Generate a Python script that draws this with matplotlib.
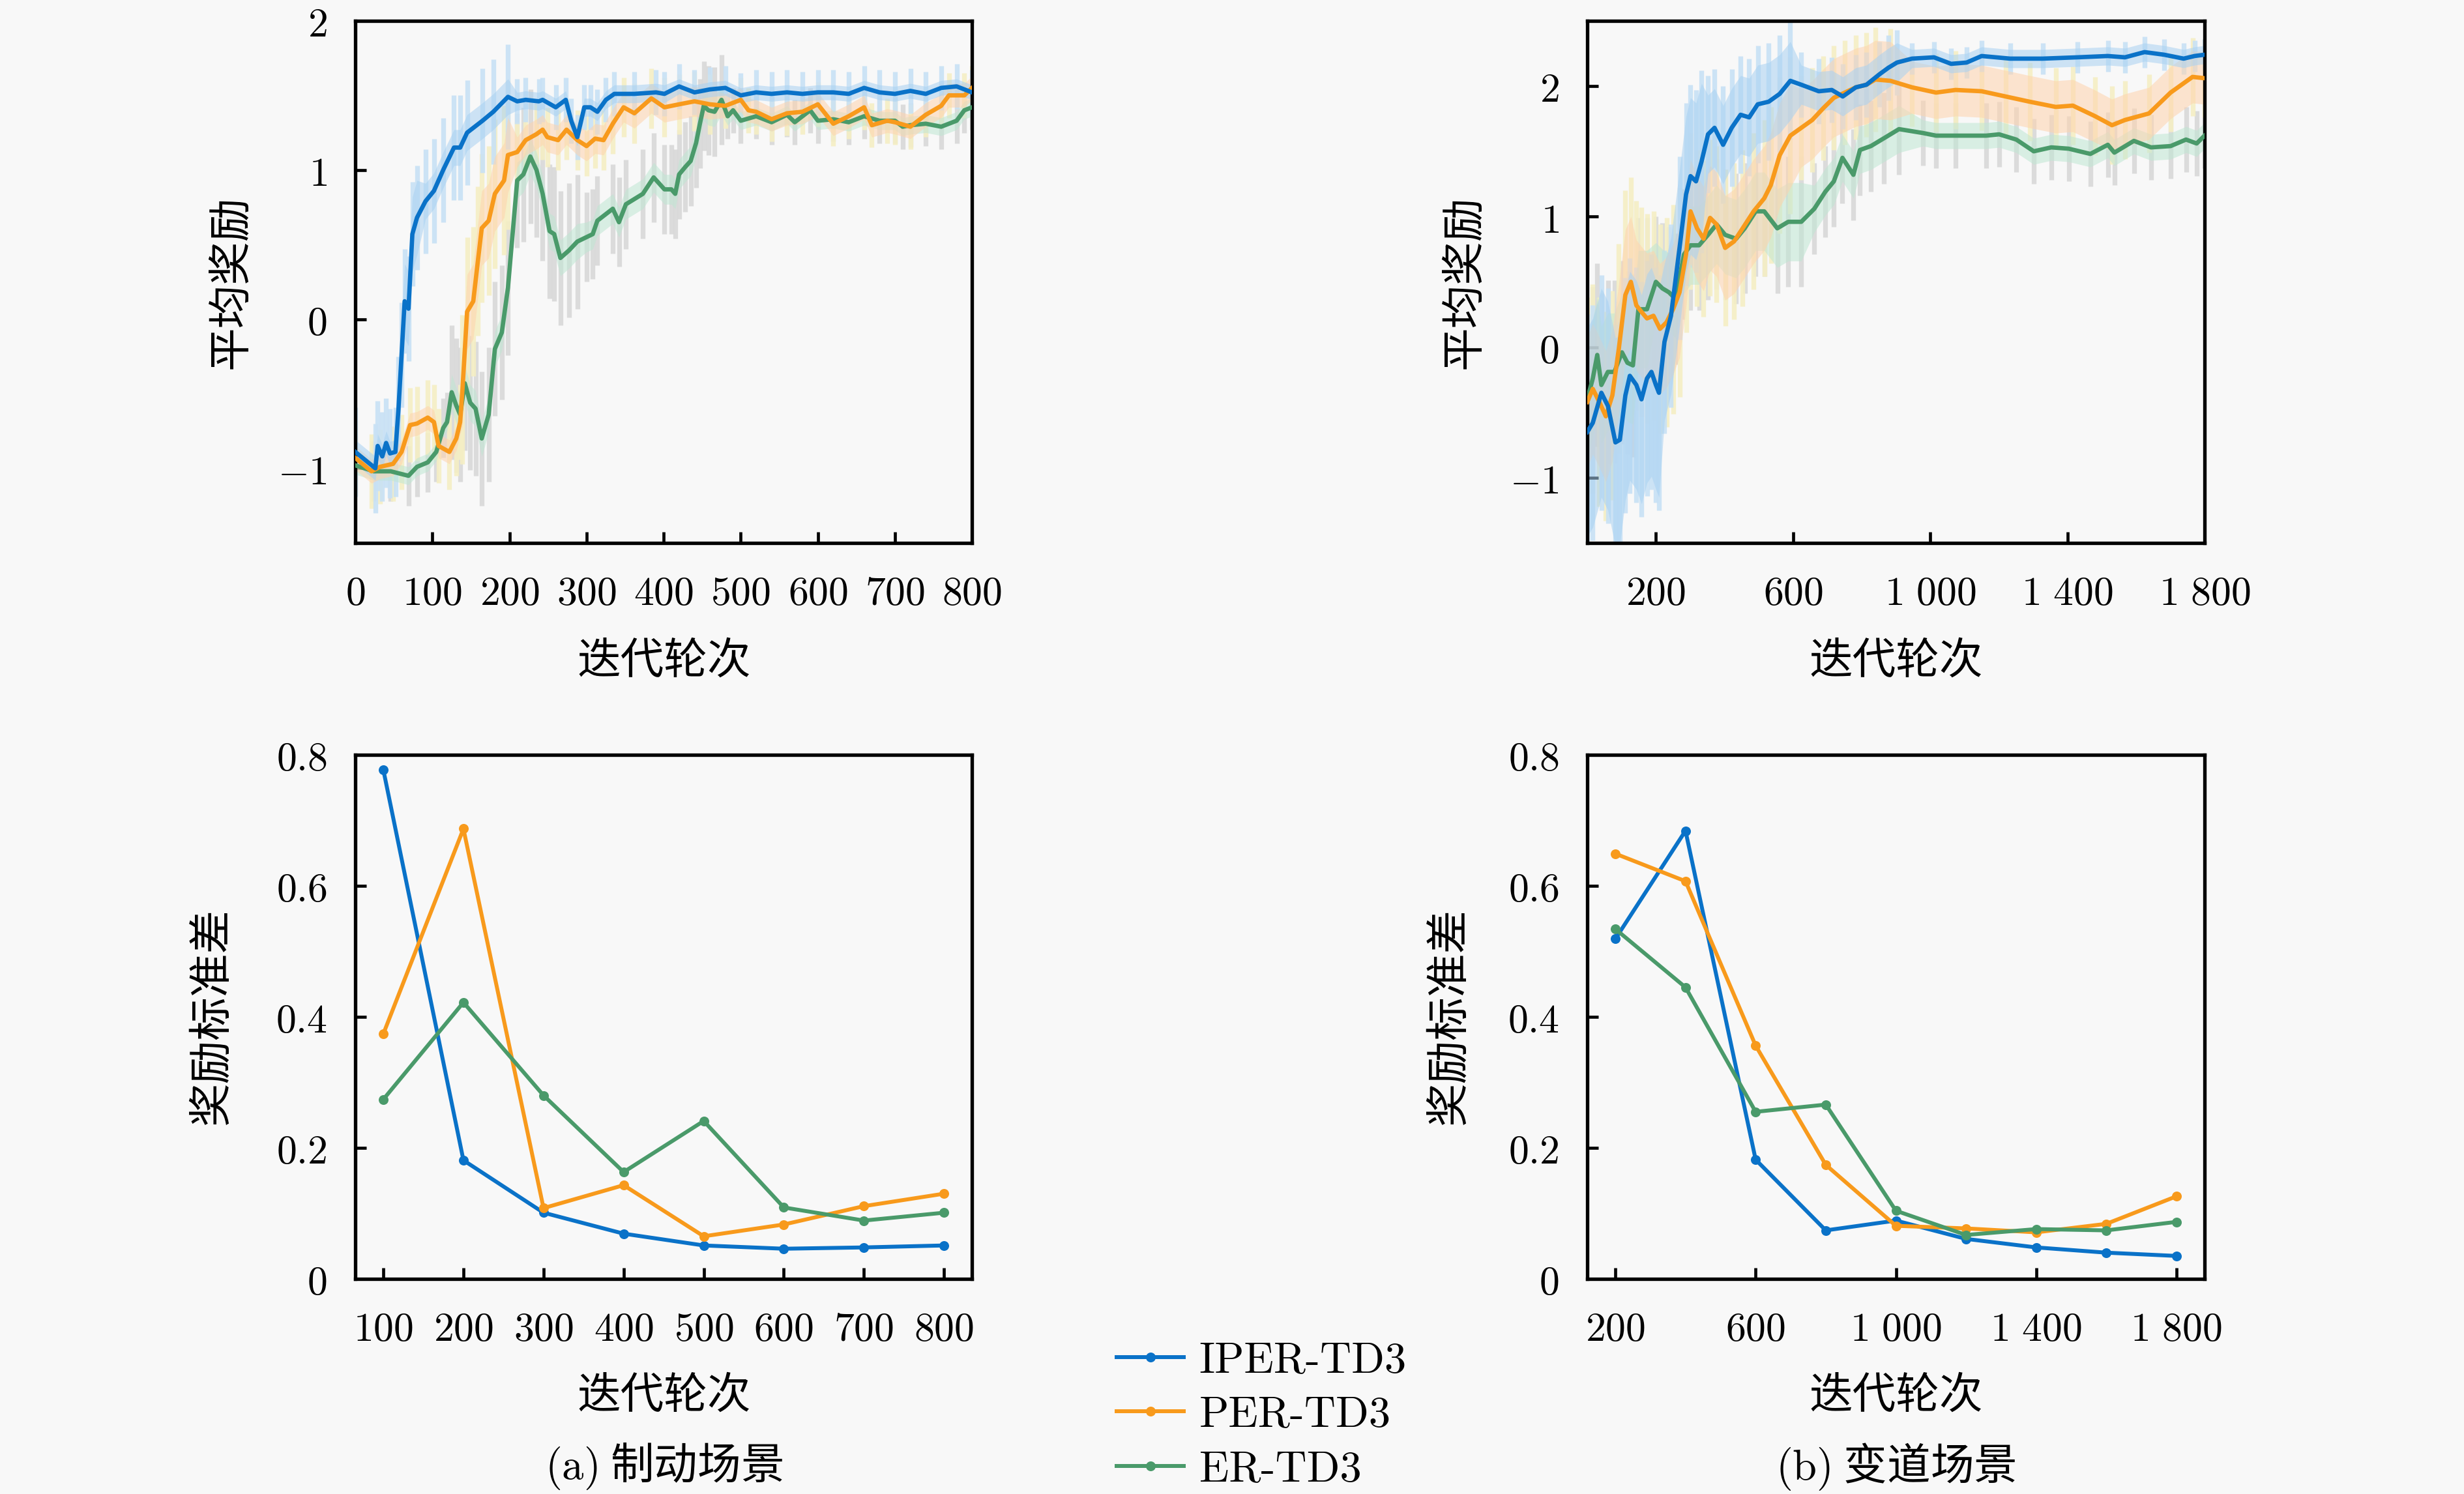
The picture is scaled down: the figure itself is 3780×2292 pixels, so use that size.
import numpy as np
import matplotlib
matplotlib.use('Agg')
import matplotlib.pyplot as plt
from matplotlib.ticker import FixedLocator, FuncFormatter

plt.rcParams['mathtext.fontset'] = 'cm'
plt.rcParams['font.family'] = ['Noto Sans CJK SC', 'DejaVu Sans']

# ---------------- data: braking scene, mean reward ----------------
tl_iper_x = [0, 26, 29, 35, 40, 45, 52, 56, 60, 64, 69, 74, 80, 91, 102, 114, 128, 136, 145, 165,
             179, 198, 210, 221, 238, 243, 260, 273, 280, 288, 297, 305, 314, 325, 336, 362, 390, 401, 420, 440,
             460, 480, 500, 520, 540, 560, 580, 600, 620, 640, 660, 680, 700, 720, 740, 760, 780, 800]
tl_iper_y = [-0.89, -1.0, -0.85, -0.92, -0.83, -0.90, -0.89, -0.60, -0.24, 0.12, 0.07, 0.57, 0.68, 0.79, 0.86, 1.00, 1.15, 1.15, 1.25, 1.33,
             1.39, 1.49, 1.46, 1.47, 1.46, 1.47, 1.42, 1.47, 1.33, 1.22, 1.42, 1.42, 1.39, 1.47, 1.51, 1.51, 1.52, 1.51, 1.56, 1.52,
             1.54, 1.55, 1.50, 1.52, 1.51, 1.52, 1.51, 1.52, 1.52, 1.51, 1.55, 1.52, 1.51, 1.53, 1.51, 1.55, 1.56, 1.52]
tl_iper_band = [0.08] * 7 + [0.25] * 6 + [0.12] * 9 + [0.06] * 16 + [0.05] * 20
tl_iper_spike = [0.3] * 7 + [0.35] * 15 + [0.15] * 36

tl_per_x = [0, 21, 32, 49, 60, 71, 80, 94, 102, 108, 122, 131, 136, 139, 145, 153, 159, 164, 173, 181,
            193, 198, 210, 221, 235, 243, 249, 263, 274, 288, 300, 311, 322, 334, 348, 362, 384, 401, 420, 440,
            460, 480, 500, 510, 520, 540, 560, 580, 600, 620, 640, 660, 670, 690, 700, 720, 740, 760, 770, 790, 800]
tl_per_y = [-0.93, -1.02, -0.99, -0.97, -0.89, -0.71, -0.70, -0.66, -0.69, -0.85, -0.89, -0.80, -0.69, -0.47, 0.05, 0.12, 0.39, 0.61, 0.66, 0.84,
            0.93, 1.10, 1.12, 1.20, 1.24, 1.27, 1.22, 1.20, 1.27, 1.20, 1.16, 1.21, 1.20, 1.31, 1.42, 1.38, 1.48, 1.42, 1.44, 1.46,
            1.44, 1.43, 1.47, 1.40, 1.39, 1.34, 1.38, 1.39, 1.44, 1.31, 1.36, 1.42, 1.30, 1.33, 1.32, 1.29, 1.37, 1.43, 1.50, 1.50, 1.55]
tl_per_band = [0.08] * 13 + [0.25] * 9 + [0.1] * 19 + [0.08] * 20
tl_per_spike = [0.25] * 13 + [0.5] * 9 + [0.2] * 19 + [0.15] * 20

tl_er_x = [0, 24, 46, 69, 80, 94, 105, 114, 119, 125, 131, 136, 142, 149, 156, 164, 173, 181, 190, 198,
           210, 218, 227, 235, 243, 252, 258, 266, 277, 288, 300, 308, 314, 334, 342, 351, 373, 387, 401, 410,
           415, 420, 428, 435, 442, 447, 452, 458, 466, 475, 483, 490, 500, 520, 540, 560, 570, 590, 600, 620,
           640, 660, 680, 700, 710, 720, 740, 760, 780, 790, 800]
tl_er_y = [-0.98, -1.02, -1.02, -1.05, -0.99, -0.96, -0.89, -0.73, -0.69, -0.49, -0.58, -0.64, -0.43, -0.56, -0.60, -0.80, -0.64, -0.20, -0.09, 0.21,
           0.93, 0.97, 1.09, 1.00, 0.84, 0.59, 0.57, 0.41, 0.46, 0.52, 0.55, 0.57, 0.66, 0.74, 0.65, 0.77, 0.84, 0.95, 0.87, 0.87,
           0.84, 0.97, 1.02, 1.06, 1.18, 1.31, 1.43, 1.40, 1.39, 1.47, 1.36, 1.40, 1.33, 1.36, 1.32, 1.37, 1.32, 1.40, 1.33, 1.34,
           1.32, 1.36, 1.33, 1.33, 1.29, 1.30, 1.31, 1.29, 1.33, 1.40, 1.42]
tl_er_band = [0.06] * 9 + [0.12] * 21 + [0.1] * 20 + [0.06] * 21
tl_er_spike = [0.2] * 9 + [0.45] * 21 + [0.3] * 20 + [0.15] * 21

# ---------------- data: lane change scene, mean reward ----------------
tr_iper_x = [0, 16, 41, 60, 82, 95, 111, 124, 143, 158, 174, 187, 200, 209, 225, 244, 269, 288, 301, 317,
             333, 352, 371, 396, 421, 447, 472, 497, 529, 561, 592, 624, 675, 713, 745, 783, 814, 852, 878, 903,
             947, 1011, 1061, 1106, 1150, 1233, 1328, 1429, 1518, 1568, 1625, 1682, 1739, 1771, 1800]
tr_iper_y = [-0.65, -0.58, -0.35, -0.45, -0.73, -0.71, -0.37, -0.22, -0.29, -0.40, -0.24, -0.19, -0.29, -0.35, 0.04, 0.24, 0.76, 1.17, 1.31, 1.27,
             1.42, 1.63, 1.68, 1.55, 1.68, 1.78, 1.76, 1.86, 1.88, 1.94, 2.04, 2.01, 1.96, 1.97, 1.92, 1.99, 2.01, 2.09, 2.14, 2.18,
             2.21, 2.22, 2.17, 2.18, 2.23, 2.21, 2.21, 2.22, 2.23, 2.22, 2.26, 2.24, 2.21, 2.23, 2.24]
tr_iper_band = [0.8] * 14 + [0.6] * 7 + [0.3] * 10 + [0.15] * 9 + [0.07] * 15
tr_iper_spike = [0.9] * 14 + [0.7] * 7 + [0.45] * 10 + [0.25] * 9 + [0.12] * 15

tr_per_x = [0, 16, 35, 54, 73, 92, 111, 127, 143, 158, 174, 193, 212, 231, 250, 269, 288, 301, 320, 339,
            358, 377, 402, 428, 453, 485, 516, 535, 561, 592, 624, 656, 688, 719, 751, 783, 814, 840, 884, 947,
            1017, 1074, 1150, 1220, 1290, 1366, 1416, 1480, 1530, 1568, 1638, 1701, 1765, 1800]
tr_per_y = [-0.42, -0.32, -0.42, -0.53, -0.37, -0.01, 0.40, 0.50, 0.32, 0.27, 0.22, 0.24, 0.14, 0.19, 0.29, 0.42, 0.71, 1.04, 0.91, 0.83,
            0.99, 0.94, 0.76, 0.81, 0.91, 1.04, 1.14, 1.24, 1.47, 1.62, 1.68, 1.74, 1.83, 1.91, 1.95, 1.99, 2.01, 2.05, 2.04, 1.99,
            1.95, 1.97, 1.96, 1.92, 1.88, 1.84, 1.85, 1.77, 1.70, 1.74, 1.79, 1.95, 2.07, 2.06]
tr_per_band = [0.5] * 16 + [0.4] * 14 + [0.3] * 9 + [0.2] * 15
tr_per_spike = [0.8] * 16 + [0.6] * 14 + [0.4] * 9 + [0.3] * 15

tr_er_x = [0, 16, 29, 41, 60, 79, 101, 117, 133, 149, 174, 200, 219, 238, 257, 282, 301, 326, 352, 377,
           402, 434, 459, 491, 516, 554, 586, 624, 662, 694, 719, 744, 776, 795, 827, 865, 909, 979, 1017, 1074,
           1163, 1201, 1251, 1302, 1353, 1404, 1467, 1518, 1537, 1594, 1644, 1701, 1746, 1777, 1800]
tr_er_y = [-0.40, -0.24, -0.06, -0.29, -0.19, -0.19, -0.04, -0.12, -0.14, 0.29, 0.29, 0.50, 0.45, 0.42, 0.37, 0.71, 0.78, 0.78, 0.86, 0.94,
           0.86, 0.83, 0.91, 1.04, 1.04, 0.91, 0.96, 0.96, 1.06, 1.19, 1.27, 1.45, 1.32, 1.51, 1.54, 1.60, 1.67, 1.64, 1.62, 1.62,
           1.62, 1.63, 1.59, 1.50, 1.53, 1.52, 1.48, 1.55, 1.49, 1.58, 1.53, 1.54, 1.59, 1.56, 1.62]
tr_er_band = [0.45] * 11 + [0.3] * 17 + [0.18] * 9 + [0.1] * 18
tr_er_spike = [0.7] * 11 + [0.5] * 17 + [0.35] * 9 + [0.25] * 18

# ---------------- data: reward standard deviation ----------------
bl_x = [100, 200, 300, 400, 500, 600, 700, 800]
bl_iper = [0.777, 0.181, 0.101, 0.069, 0.051, 0.046, 0.048, 0.051]
bl_per = [0.374, 0.687, 0.108, 0.143, 0.065, 0.083, 0.111, 0.130]
bl_er = [0.274, 0.422, 0.280, 0.163, 0.241, 0.109, 0.089, 0.101]

br_x = [200, 400, 600, 800, 1000, 1200, 1400, 1600, 1800]
br_iper = [0.519, 0.684, 0.182, 0.074, 0.089, 0.061, 0.048, 0.040, 0.035]
br_per = [0.649, 0.607, 0.356, 0.174, 0.081, 0.077, 0.071, 0.084, 0.126]
br_er = [0.534, 0.445, 0.255, 0.266, 0.104, 0.067, 0.076, 0.074, 0.087]

names = ['IPER-TD3', 'PER-TD3', 'ER-TD3']
colors = ['#0a72c8', '#f89a1c', '#4a9a6a']
band_colors = ['#a8d1f2', '#ffd3ad', '#bfe6d3']
spike_colors = ['#c8e1f5', '#f5efc4', '#d8d8d8']

bg = '#f8f8f8'
fig = plt.figure(figsize=(15.75, 9.55), dpi=240, facecolor=bg)

ax_tl = fig.add_axes([0.1442, 0.6366, 0.2503, 0.3495])
ax_tr = fig.add_axes([0.6442, 0.6366, 0.2505, 0.3495])
ax_bl = fig.add_axes([0.1442, 0.1440, 0.2503, 0.3508])
ax_br = fig.add_axes([0.6442, 0.1440, 0.2505, 0.3508])


def num_label(v, pos=None):
    if abs(v - round(v)) < 1e-9:
        n = int(round(v))
        if abs(n) >= 1000:
            return r'$%d\ %03d$' % (n // 1000, n % 1000)
        return r'$%d$' % n
    return r'$%.1f$' % v


def style(ax, xticks, yticks):
    ax.set_facecolor(bg)
    for s in ax.spines.values():
        s.set_linewidth(1.6)
    ax.xaxis.set_major_locator(FixedLocator(xticks))
    ax.yaxis.set_major_locator(FixedLocator(yticks))
    ax.xaxis.set_major_formatter(FuncFormatter(num_label))
    ax.yaxis.set_major_formatter(FuncFormatter(num_label))
    ax.tick_params(direction='in', length=5, width=1.4, labelsize=18.5, top=False, right=False)
    ax.tick_params(axis='x', pad=14)
    ax.tick_params(axis='y', pad=13)


def reward_panel(ax, series):
    # series drawn ER first so IPER ends on top
    for (x, y, band, spike), c, bc, sc in list(zip(series, colors, band_colors, spike_colors))[::-1]:
        x = np.array(x)
        y = np.array(y)
        band = np.array(band)
        spike = np.array(spike)
        ax.vlines(x, y - spike, y + spike, colors=sc, lw=2.2, alpha=0.9, zorder=1)
        ax.fill_between(x, y - band, y + band, color=bc, alpha=0.55, lw=0, zorder=2)
    for (x, y, band, spike), c in list(zip(series, colors))[::-1]:
        ax.plot(x, y, color=c, lw=2.0, zorder=3)


reward_panel(ax_tl, [(tl_iper_x, tl_iper_y, tl_iper_band, tl_iper_spike),
                     (tl_per_x, tl_per_y, tl_per_band, tl_per_spike),
                     (tl_er_x, tl_er_y, tl_er_band, tl_er_spike)])
ax_tl.set_xlim(0, 800)
ax_tl.set_ylim(-1.5, 2)
style(ax_tl, range(0, 801, 100), [-1, 0, 1, 2])

reward_panel(ax_tr, [(tr_iper_x, tr_iper_y, tr_iper_band, tr_iper_spike),
                     (tr_per_x, tr_per_y, tr_per_band, tr_per_spike),
                     (tr_er_x, tr_er_y, tr_er_band, tr_er_spike)])
ax_tr.set_xlim(0, 1800)
ax_tr.set_ylim(-1.5, 2.5)
style(ax_tr, [200, 600, 1000, 1400, 1800], [-1, 0, 1, 2])

handles = []
for ys, c, n in zip([bl_iper, bl_per, bl_er], colors, names):
    h, = ax_bl.plot(bl_x, ys, color=c, lw=1.8, marker='o', ms=3.5, label=n)
    handles.append(h)
ax_bl.set_ylim(0, 0.8)
style(ax_bl, bl_x, [0, 0.2, 0.4, 0.6, 0.8])

for ys, c in zip([br_iper, br_per, br_er], colors):
    ax_br.plot(br_x, ys, color=c, lw=1.8, marker='o', ms=3.5)
ax_br.set_ylim(0, 0.8)
style(ax_br, [200, 600, 1000, 1400, 1800], [0, 0.2, 0.4, 0.6, 0.8])

# axis titles
lab = dict(fontsize=20, ha='center', va='center')
fig.text(0.2694, 0.5570, '迭代轮次', **lab)
fig.text(0.7695, 0.5570, '迭代轮次', **lab)
fig.text(0.2694, 0.0655, '迭代轮次', **lab)
fig.text(0.7695, 0.0655, '迭代轮次', **lab)
fig.text(0.0937, 0.8113, '平均奖励', rotation=90, **lab)
fig.text(0.5944, 0.8113, '平均奖励', rotation=90, **lab)
fig.text(0.0860, 0.3194, '奖励标准差', rotation=90, **lab)
fig.text(0.5881, 0.3194, '奖励标准差', rotation=90, **lab)

fig.text(0.2694, 0.0185, r'$\mathrm{(a)}$ 制动场景', **lab)
fig.text(0.7695, 0.0185, r'$\mathrm{(b)}$ 变道场景', **lab)

fig.legend(handles=handles, loc='center', bbox_to_anchor=(0.512, 0.0525),
           frameon=False, prop={'family': ['cmr10', 'DejaVu Serif'], 'size': 20},
           handlelength=1.55, handletextpad=0.35, labelspacing=0.36, numpoints=1)

fig.savefig('out.png', dpi=240, facecolor=bg)
